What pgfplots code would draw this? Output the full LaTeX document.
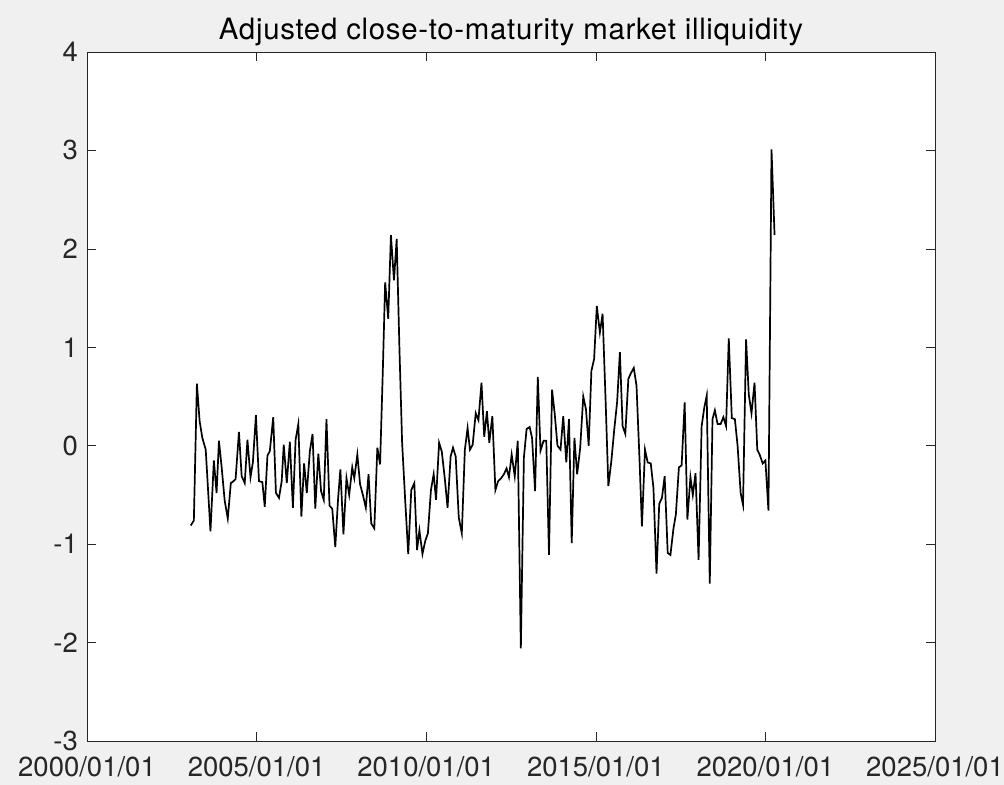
\documentclass[border=0pt]{standalone}
\usepackage{pgfplots}
\pgfplotsset{compat=1.18}
\usepackage{pgfplotstable}
\usepackage{fontspec}
\setmainfont{TeX Gyre Heros}
\newfontfamily\titlefont[LetterSpace=2.4]{TeX Gyre Heros}
\definecolor{figbg}{RGB}{240,240,240}
\definecolor{axcol}{RGB}{38,38,38}
\pgfplotstableread{
year val
2003.06 -0.81
2003.15 -0.76
2003.24 0.63
2003.32 0.25
2003.40 0.08
2003.50 -0.04
2003.64 -0.87
2003.74 -0.15
2003.82 -0.48
2003.89 0.05
2003.97 -0.22
2004.06 -0.56
2004.15 -0.74
2004.24 -0.38
2004.32 -0.36
2004.38 -0.34
2004.48 0.14
2004.56 -0.31
2004.65 -0.38
2004.73 0.06
2004.82 -0.32
2004.89 -0.17
2004.98 0.31
2005.07 -0.36
2005.17 -0.37
2005.24 -0.62
2005.32 -0.10
2005.39 -0.055
2005.49 0.29
2005.57 -0.48
2005.66 -0.53
2005.74 -0.36
2005.80 0.01
2005.89 -0.38
2005.98 0.04
2006.07 -0.63
2006.15 0.06
2006.23 0.22
2006.32 -0.72
2006.40 -0.18
2006.48 -0.48
2006.57 -0.055
2006.65 0.12
2006.73 -0.64
2006.82 -0.08
2006.90 -0.46
2006.98 -0.55
2007.06 0.27
2007.15 -0.61
2007.23 -0.64
2007.32 -1.03
2007.40 -0.55
2007.47 -0.24
2007.56 -0.90
2007.65 -0.33
2007.73 -0.50
2007.82 -0.22
2007.88 -0.33
2007.97 -0.09
2008.05 -0.39
2008.14 -0.51
2008.22 -0.63
2008.30 -0.29
2008.38 -0.79
2008.47 -0.84
2008.56 -0.02
2008.64 -0.19
2008.72 0.75
2008.79 1.66
2008.88 1.29
2008.96 2.14
2009.05 1.68
2009.13 2.10
2009.21 1.00
2009.29 0.03
2009.38 -0.55
2009.47 -1.10
2009.56 -0.45
2009.65 -0.38
2009.73 -1.06
2009.80 -0.86
2009.89 -1.10
2009.97 -0.97
2010.05 -0.89
2010.14 -0.45
2010.22 -0.29
2010.29 -0.55
2010.38 0.03
2010.46 -0.06
2010.55 -0.34
2010.63 -0.63
2010.72 -0.11
2010.79 -0.02
2010.87 -0.11
2010.96 -0.73
2011.05 -0.89
2011.14 -0.04
2011.22 0.18
2011.29 -0.04
2011.37 0.01
2011.46 0.33
2011.54 0.26
2011.63 0.64
2011.71 0.09
2011.79 0.35
2011.86 0.03
2011.95 0.30
2012.04 -0.45
2012.12 -0.36
2012.21 -0.33
2012.29 -0.29
2012.37 -0.23
2012.44 -0.32
2012.52 -0.09
2012.61 -0.31
2012.70 0.05
2012.79 -2.06
2012.88 -0.12
2012.96 0.17
2013.05 0.19
2013.12 0.08
2013.21 -0.46
2013.29 0.70
2013.37 -0.05
2013.46 0.05
2013.54 0.05
2013.62 -1.11
2013.71 0.57
2013.79 0.32
2013.87 0.00
2013.96 -0.04
2014.04 0.30
2014.13 -0.17
2014.21 0.27
2014.29 -0.99
2014.37 0.08
2014.45 -0.29
2014.54 -0.02
2014.63 0.50
2014.71 0.37
2014.79 0.00
2014.87 0.76
2014.95 0.88
2015.03 1.42
2015.12 1.15
2015.20 1.34
2015.29 0.45
2015.37 -0.41
2015.46 -0.15
2015.54 0.15
2015.63 0.45
2015.71 0.95
2015.79 0.20
2015.87 0.12
2015.96 0.68
2016.04 0.74
2016.12 0.79
2016.20 0.61
2016.29 -0.15
2016.36 -0.82
2016.45 -0.04
2016.53 -0.17
2016.62 -0.18
2016.70 -0.43
2016.79 -1.30
2016.87 -0.59
2016.95 -0.53
2017.03 -0.31
2017.12 -1.09
2017.20 -1.11
2017.29 -0.84
2017.36 -0.70
2017.45 -0.22
2017.53 -0.20
2017.62 0.44
2017.70 -0.75
2017.79 -0.32
2017.86 -0.50
2017.94 -0.28
2018.03 -1.16
2018.12 0.20
2018.20 0.39
2018.27 0.51
2018.36 -1.40
2018.44 0.27
2018.51 0.36
2018.59 0.22
2018.68 0.22
2018.76 0.29
2018.84 0.20
2018.92 1.09
2019.01 0.28
2019.10 0.27
2019.18 0.00
2019.27 -0.48
2019.34 -0.60
2019.43 1.08
2019.51 0.52
2019.59 0.33
2019.68 0.64
2019.76 -0.04
2019.83 -0.09
2019.92 -0.18
2020.00 -0.15
2020.09 -0.66
2020.18 3.01
2020.27 2.14
}\datatable
\begin{document}
\begin{tikzpicture}
\fill[figbg] (0,0) rectangle (1004bp,785bp);
\useasboundingbox (0,0) rectangle (1004bp,785bp);
\begin{axis}[
  at={(87bp,44bp)}, anchor=south west,
  scale only axis, width=848bp, height=689bp,
  xmin=2000, xmax=2025, ymin=-3, ymax=4,
  axis background/.style={fill=white},
  axis line style={axcol, line width=0.8bp},
  xtick={2000,2005,2010,2015,2020,2025},
  xticklabels={2000/01/01,2005/01/01,2010/01/01,2015/01/01,2020/01/01,2025/01/01},
  ytick={-3,-2,-1,0,1,2,3,4},
  yticklabels={-3,-2,-1,0,1,2,3,4},
  tick align=inside, xtick pos=both, ytick pos=both,
  major tick length=9bp,
  tick style={axcol, line width=0.6bp},
  ticklabel style={font=\fontsize{27.6}{32}\selectfont, text=axcol},
  xticklabel style={inner sep=0pt, anchor=north, yshift=-15bp},
  yticklabel style={inner sep=0pt, anchor=east, xshift=-9bp},
  title={Adjusted close-to-maturity market illiquidity},
  title style={font=\titlefont\fontsize{29.5}{34}\selectfont, text=black, inner sep=0pt, at={(0.5,1)}, anchor=base, yshift=6.7bp},
]
\addplot[black, line width=1.7bp, mark=none] table[x=year, y=val] {\datatable};
\end{axis}
\end{tikzpicture}
\end{document}
